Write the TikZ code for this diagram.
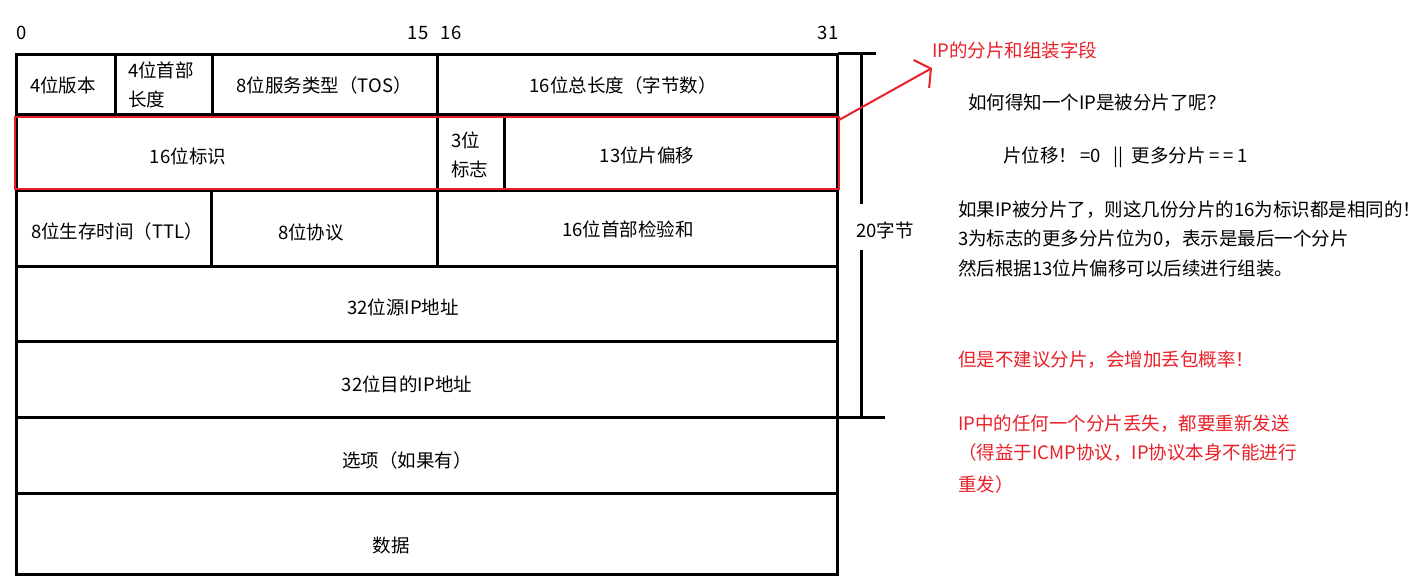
\documentclass[tikz,border=0pt]{standalone}
\usepackage{fontspec}
\newfontfamily\cjk{Noto Sans CJK SC}
\usetikzlibrary{fit,arrows.meta}
\definecolor{mark}{RGB}{234,32,40}
\tikzset{
  box/.style={draw=black, line width=3pt, inner sep=0pt, outer sep=0pt},
  txt/.style={inner sep=0pt, font=\cjk\fontsize{18.5}{22}\selectfont, text=black},
  twoline/.style={txt, anchor=west, align=left, font=\cjk\fontsize{18.5}{29.5}\selectfont},
  note/.style={txt, anchor=west},
  rednote/.style={note, text=mark},
  hilite/.style={draw=mark, line width=2.5pt, inner sep=0pt, outer sep=0pt},
  pointer/.style={draw=mark, line width=2pt, -{Straight Barb[length=11pt,width=32pt,line width=2pt]}},
  brace/.style={draw=black, line width=3pt}
}
\begin{document}
\begin{tikzpicture}[x=1pt,y=-1pt]
\useasboundingbox[fill=white] (0,0) rectangle (1422,582);
% bit numbers
\node[txt] (b0) at (22,33) {0};
\node[txt] (b15) at (418,33) {15};
\node[txt] (b16) at (451,33) {16};
\node[txt] (b31) at (828,33) {31};
% row 1
\node[box, fit={(16,54) (115,114)}] (ver) {};
\node[box, fit={(115,54) (212,114)}] (ihl) {};
\node[box, fit={(212,54) (437,114)}] (tos) {};
\node[box, fit={(437,54) (837,114)}] (len) {};
% row 2
\node[box, fit={(16,114) (437,190)}] (id) {};
\node[box, fit={(437,114) (504,190)}] (flg) {};
\node[box, fit={(504,114) (837,190)}] (off) {};
% row 3
\node[box, fit={(16,190) (211,266)}] (ttl) {};
\node[box, fit={(211,190) (437,266)}] (pro) {};
\node[box, fit={(437,190) (837,266)}] (chk) {};
% rows 4-7
\node[box, fit={(16,266) (837,341)}] (src) {};
\node[box, fit={(16,341) (837,417)}] (dst) {};
\node[box, fit={(16,417) (837,493)}] (opt) {};
\node[box, fit={(16,493) (837,574)}] (dat) {};
% field texts
\node[txt] (tver) at (63,85) {4位版本};
\node[twoline] (tihl) at (128,85) {4位首部\\长度};
\node[txt] (ttos) at (324,85) {8位服务类型（TOS）};
\node[txt] (tlen) at (623,85) {16位总长度（字节数）};
\node[txt] (tid) at (188,156) {16位标识};
\node[twoline] (tflg) at (451,155) {3位\\标志};
\node[txt] (toff) at (647,155) {13位片偏移};
\node[txt] (tttl) at (117,231) {8位生存时间（TTL）};
\node[txt] (tpro) at (311,232) {8位协议};
\node[txt] (tchk) at (628,229) {16位首部检验和};
\node[txt] (tsrc) at (403,307) {32位源IP地址};
\node[txt] (tdst) at (407,384) {32位目的IP地址};
\node[txt] (topt) at (407,460) {选项（如果有）};
\node[txt] (tdat) at (391,545) {数据};
% highlight of fragmentation fields
\node[hilite, fit={(15,117) (839,189)}] (hl) {};
% 20 bytes bracket
\coordinate (bt) at (861,53);
\coordinate (bb) at (861,417);
\node[txt] (bytes) at (885,230) {20字节};
\draw[brace] (838,53) -- (876,53);
\draw[brace] (bt) -- (861,204);
\draw[brace] (861,250) -- (bb);
\draw[brace] (837,417) -- (885,417);
% annotation
\node[rednote] (title) at (932,50) {IP的分片和组装字段};
\coordinate (tip) at (932,68);
\draw[pointer] ([yshift=-3pt]hl.north east) -- (tip);
\node[note] (q) at (968,102) {如何得知一个IP是被分片了呢？};
\node[note] (cond) at (1003,157) {片位移！\,=0 \ \ ||\ \ 更多分片 =\,= 1};
\node[note] (p1) at (958,210) {如果IP被分片了，则这几份分片的16为标识都是相同的！};
\node[note] (p2) at (958,239) {3为标志的更多分片位为0，表示是最后一个分片};
\node[note] (p3) at (958,268) {然后根据13位片偏移可以后续进行组装。};
\node[rednote] (r1) at (958,360) {但是不建议分片，会增加丢包概率！};
\node[rednote] (r2) at (958,424) {IP中的任何一个分片丢失，都要重新发送};
\node[rednote] (r3) at (958,453) {（得益于ICMP协议，IP协议本身不能进行};
\node[rednote] (r4) at (958,484) {重发）};
\end{tikzpicture}
\end{document}
